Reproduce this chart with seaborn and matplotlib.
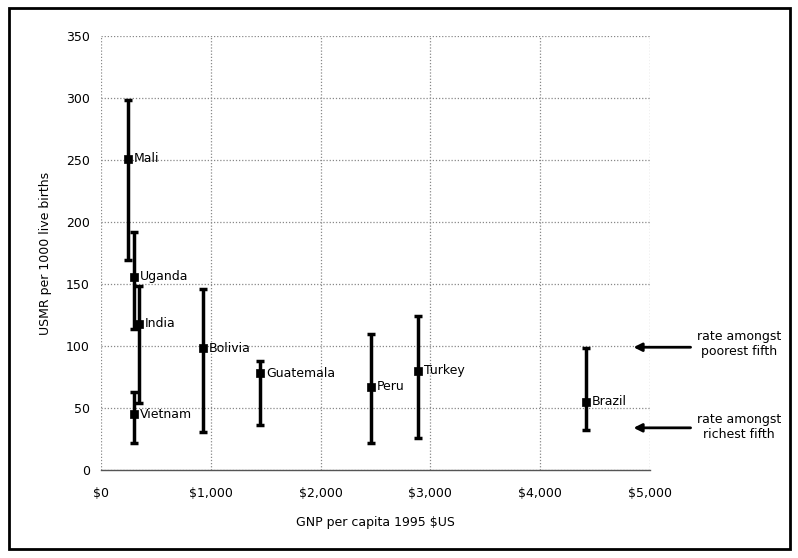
import matplotlib
matplotlib.use("Agg")
import matplotlib.pyplot as plt
import matplotlib.patches as mpatches
from matplotlib.ticker import FuncFormatter
import pandas as pd
import seaborn as sns

# data
countries = ["Mali", "Uganda", "India", "Vietnam", "Bolivia", "Guatemala", "Peru", "Turkey", "Brazil"]
gnp = [250, 300, 350, 300, 930, 1450, 2460, 2890, 4420]
usmr_avg = [251, 156, 118, 45, 98, 78, 67, 80, 55]
usmr_poorest = [298, 192, 148, 63, 146, 88, 110, 124, 98]
usmr_richest = [169, 114, 54, 22, 31, 36, 22, 26, 32]

df = pd.DataFrame({"country": countries, "gnp": gnp, "avg": usmr_avg,
                   "hi": usmr_poorest, "lo": usmr_richest})

sns.set_style("whitegrid")
plt.rcParams['font.family'] = ['DejaVu Sans']
plt.rcParams.update({"text.color": "black", "axes.labelcolor": "black",
                     "xtick.color": "black", "ytick.color": "black"})

fig = plt.figure(figsize=(7.98, 5.58), dpi=100)
ax = fig.add_axes([0.1266, 0.1577, 0.6879, 0.7778])

# error bars: poorest fifth (top) to richest fifth (bottom)
ax.errorbar(df["gnp"], df["avg"],
            yerr=[df["avg"] - df["lo"], df["hi"] - df["avg"]],
            fmt="none", ecolor="black", elinewidth=2.5, capsize=3, capthick=2.5, zorder=3)
sns.scatterplot(data=df, x="gnp", y="avg", marker="s", color="black", s=40,
                edgecolor="black", ax=ax, zorder=4)

for _, r in df.iterrows():
    ax.annotate(r["country"], (r["gnp"], r["avg"]), xytext=(4, 0), textcoords="offset points",
                ha="left", va="center", fontsize=9, zorder=5)

ax.set_xlim(0, 5000)
ax.set_ylim(0, 350)
ax.set_xticks(range(0, 5001, 1000))
ax.set_yticks(range(0, 351, 50))
ax.xaxis.set_major_formatter(FuncFormatter(lambda v, p: f"${int(v):,}"))
ax.tick_params(labelsize=9, length=0, pad=8)
ax.tick_params(axis="x", pad=12)
ax.set_xlabel("GNP per capita 1995 $US", fontsize=9, labelpad=12)
ax.set_ylabel("USMR per 1000 live births", fontsize=9, labelpad=10)

ax.grid(True, color="#888888", linestyle=(0, (1, 1.5)), linewidth=0.9)
for side in ["top", "right", "left"]:
    ax.spines[side].set_visible(False)
ax.spines["bottom"].set_color("#555555")
ax.spines["bottom"].set_linewidth(1)

# side annotations with arrows pointing at the plot
arrow = dict(arrowstyle="-|>", color="black", lw=2, mutation_scale=12, shrinkA=0, shrinkB=0)
for label, yv, yt in [("rate amongst\npoorest fifth", 99, 102), ("rate amongst\nrichest fifth", 34, 35)]:
    ax.annotate("", xy=(4850, yv), xytext=(5370, yv), annotation_clip=False, arrowprops=arrow)
    ax.text(5810, yt, label, ha="center", va="center", fontsize=9, clip_on=False)

# outer frame
fig.patches.append(mpatches.Rectangle((0.011, 0.016), 0.979, 0.97, transform=fig.transFigure,
                                      fill=False, edgecolor="black", linewidth=2))

fig.savefig("out.png", dpi=100)
